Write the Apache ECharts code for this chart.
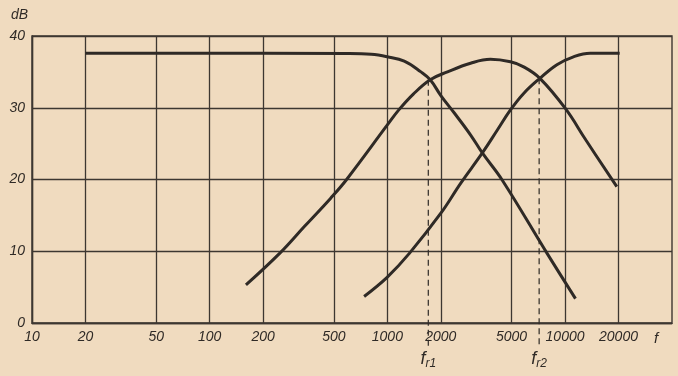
<!DOCTYPE html>
<html><head><meta charset="utf-8">
<script src="https://cdn.jsdelivr.net/npm/echarts@6/dist/echarts.min.js"></script>
<style>html,body{margin:0;padding:0;background:#f1ddc2;} #c{width:678px;height:376px;}</style>
</head><body><div id="c"></div>
<script>
// tick labels
const xTickValues = [10, 20, 50, 100, 200, 500, 1000, 2000, 5000, 10000, 20000];
// low-pass (woofer) curve
const lowFreq = [20, 600, 811, 1000, 1245, 1545, 1743, 2000, 2376, 2943, 3425, 4436, 7925, 11450];
const lowDb = [37.6, 37.55, 37.45, 37.1, 36.5, 35.0, 33.9, 31.7, 29.3, 26.2, 23.7, 19.9, 9.7, 3.4];
// band-pass (mid) curve
const midFreq = [160, 250, 340, 480, 590, 1000, 1160, 1400, 1743, 2180, 2940, 3800, 4930, 5850, 7220, 10040, 13100, 19560];
const midDb = [5.3, 9.8, 13.4, 17.4, 20.0, 27.6, 29.7, 31.9, 33.9, 35.0, 36.2, 36.75, 36.4, 35.7, 34.1, 29.9, 25.5, 19.0];
// high-pass (tweeter) curve
const highFreq = [740, 1000, 1330, 2000, 2590, 3425, 4160, 4930, 5850, 7220, 9000, 11150, 13850, 20300];
const highDb = [3.7, 6.4, 9.7, 15.3, 19.5, 23.7, 26.9, 29.7, 32.0, 34.1, 36.0, 37.1, 37.6, 37.6];
// crossover frequencies
const crossFreq = [1700, 7150];
const crossDb = [33.9, 34.1];
const crossNames = ['r1', 'r2'];
const crossBottomDb = -3.2;

const INK = '#2f2a26';
const GRID = '#3d3731';
const FONT = 'Liberation Sans, Arial, sans-serif';
const zip = (a, b) => a.map((v, i) => [v, b[i]]);

const curve = (f, d) => ({
  type: 'line', data: zip(f, d), showSymbol: false, smooth: 0.4,
  lineStyle: { color: INK, width: 3 }, silent: true, z: 5
});

const crossSeries = crossFreq.map((f, i) => ({
  type: 'line', clip: false, showSymbol: true, symbol: 'circle', symbolSize: 0, silent: true, z: 4,
  lineStyle: { color: INK, width: 1.2, type: [6, 4] },
  itemStyle: { color: INK },
  data: [
    [f, crossDb[i]],
    { value: [f, crossBottomDb],
      label: { show: true, position: 'bottom', distance: 2,
        formatter: '{f|f}{s|' + crossNames[i] + '}',
        rich: {
          f: { fontSize: 18, fontStyle: 'italic', fontFamily: FONT, color: INK },
          s: { fontSize: 12, fontStyle: 'italic', fontFamily: FONT, color: INK, padding: [10, 0, 0, 0] }
        } } }
  ]
}));

const chart = echarts.init(document.getElementById('c'), null, { renderer: 'canvas' });
chart.setOption({
  animation: false,
  backgroundColor: '#f0dbbf',
  grid: { left: 32, right: 6, top: 36, bottom: 53, show: true, borderColor: GRID, borderWidth: 1.4, backgroundColor: 'transparent' },
  xAxis: {
    type: 'log', logBase: 10, min: 10, max: 40000,
    name: 'f', nameLocation: 'end', nameGap: -16,
    nameTextStyle: { fontStyle: 'italic', fontSize: 15, fontFamily: FONT, color: INK, align: 'center', verticalAlign: 'top', padding: [8, 0, 0, 0] },
    axisLine: { show: true, lineStyle: { color: GRID, width: 1.4 } },
    axisTick: { show: false, customValues: xTickValues },
    axisLabel: { customValues: xTickValues, formatter: v => String(Math.round(v)), fontStyle: 'italic', fontSize: 14, fontFamily: FONT, color: INK, margin: 7 },
    splitLine: { show: true, lineStyle: { color: GRID, width: 1.3 } },
    minorSplitLine: { show: false }
  },
  yAxis: {
    type: 'value', min: 0, max: 40, interval: 10,
    name: 'dB', nameLocation: 'end', nameGap: 14,
    nameTextStyle: { fontStyle: 'italic', fontSize: 14, fontFamily: FONT, color: INK, align: 'right', padding: [0, 4, 0, 0] },
    axisLine: { show: true, lineStyle: { color: GRID, width: 1.4 } },
    axisTick: { show: false },
    axisLabel: { fontStyle: 'italic', fontSize: 14, fontFamily: FONT, color: INK, margin: 7 },
    splitLine: { show: true, lineStyle: { color: GRID, width: 1.3 } }
  },
  series: [curve(lowFreq, lowDb), curve(midFreq, midDb), curve(highFreq, highDb)].concat(crossSeries)
});
</script></body></html>
